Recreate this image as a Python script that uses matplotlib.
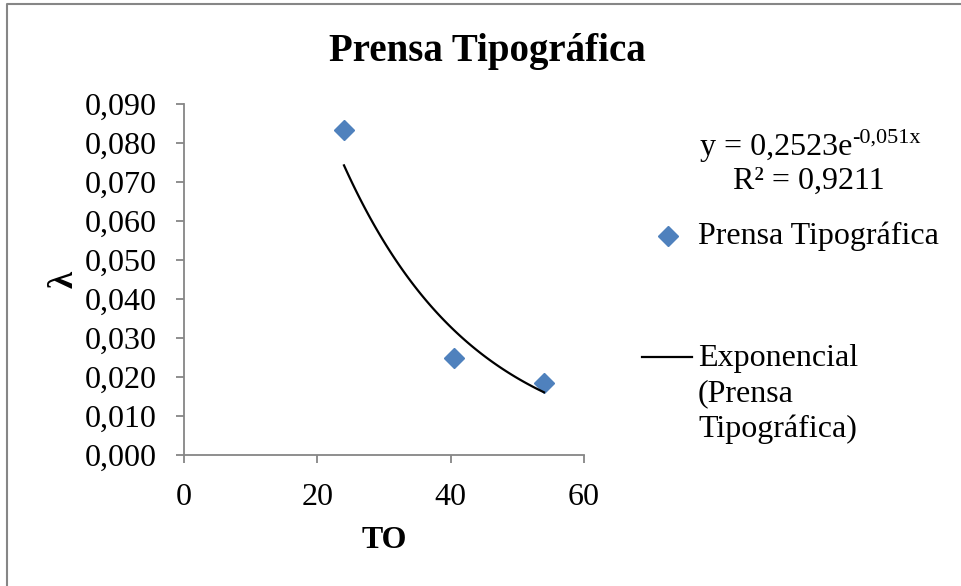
import numpy as np
import matplotlib
matplotlib.use("Agg")
import matplotlib.pyplot as plt
from matplotlib.lines import Line2D
from matplotlib.ticker import FuncFormatter, MultipleLocator

# data
to_vals = [24.0, 40.5, 54.0]
lam_vals = [0.0833, 0.0248, 0.0185]
series_name = "Prensa Tipográfica"
trend_name = "Exponencial\n(Prensa\nTipográfica)"
eq_base = "y = 0,2523e"
eq_exp = "-0,051x"
r2_text = "R² = 0,9211"

W, H = 961, 586
plt.rcParams['font.family'] = ['Liberation Serif', 'DejaVu Serif']

fig = plt.figure(figsize=(W / 100, H / 100), dpi=100)

def fx(px):
    return px / W

def fy(py):
    return 1 - py / H

ax = fig.add_axes([fx(184), fy(455), fx(584) - fx(184), fy(104) - fy(455)])

blue = '#4F81BD'
grey = '#868686'

x = np.array(to_vals)
y = np.array(lam_vals)
ax.plot(x, y, linestyle='none', marker='D', markersize=10.5, color=blue, clip_on=False)

# exponential trendline fitted to the points
b, a = np.polyfit(x, np.log(y), 1)
xt = np.linspace(x.min(), x.max(), 100)
ax.plot(xt, np.exp(a) * np.exp(b * xt), color='black', linewidth=1.6)

ax.set_xlim(0, 60)
ax.set_ylim(0, 0.09)
ax.xaxis.set_major_locator(MultipleLocator(20))
ax.yaxis.set_major_locator(MultipleLocator(0.01))
ax.yaxis.set_major_formatter(FuncFormatter(lambda v, p: f"{v:.3f}".replace('.', ',')))
ax.xaxis.set_major_formatter(FuncFormatter(lambda v, p: f"{v:.0f}"))

for s in ['top', 'right']:
    ax.spines[s].set_visible(False)
for s in ['left', 'bottom']:
    ax.spines[s].set_color(grey)
    ax.spines[s].set_linewidth(1.3)
ax.tick_params(direction='out', length=6, width=1.3, color=grey, labelsize=23)
ax.tick_params(axis='x', pad=14)
ax.tick_params(axis='y', pad=13.5)

ax.set_xlabel("TO", fontsize=23, fontweight='bold', labelpad=10)
ax.set_ylabel("λ", fontsize=25, fontweight='bold', labelpad=3)

fig.text(fx(487), fy(51), series_name, fontsize=28, fontweight='bold', ha='center', va='center')

# equation and R²
t = fig.text(fx(700), fy(148), eq_base, fontsize=23, ha='left', va='center')
ax.annotate(eq_exp, xy=(1, 0.5), xycoords=t, fontsize=16, ha='left', va='bottom')
fig.text(fx(809), fy(181), r2_text, fontsize=23, ha='center', va='center')

# legend drawn by hand to keep the handle at the first label line
fig.add_artist(Line2D([fx(668)], [fy(236)], marker='D', markersize=10.5, color=blue,
                      linestyle='none', transform=fig.transFigure))
fig.text(fx(698), fy(236), series_name, fontsize=23, ha='left', va='center')
fig.add_artist(Line2D([fx(642), fx(692)], [fy(357), fy(357)], color='black', linewidth=1.6,
                      transform=fig.transFigure))
fig.text(fx(698), fy(344), trend_name, fontsize=23, ha='left', va='top', linespacing=1.28)

# chart frame (only top and left edges are visible)
fig.add_artist(Line2D([fx(7), fx(7), 1.0], [0.0, fy(4), fy(4)], color=grey, linewidth=1.5,
                      transform=fig.transFigure))

fig.savefig("out.png", dpi=100)
